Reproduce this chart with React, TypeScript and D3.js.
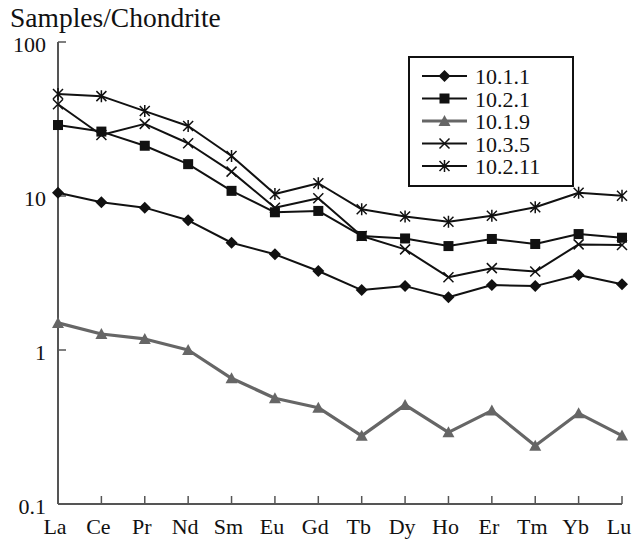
import React from "react";
import * as d3 from "d3";

const elements = ["La", "Ce", "Pr", "Nd", "Sm", "Eu", "Gd", "Tb", "Dy", "Ho", "Er", "Tm", "Yb", "Lu"];
const s1011 = [10.5, 9.1, 8.4, 6.95, 4.97, 4.18, 3.26, 2.45, 2.6, 2.2, 2.64, 2.6, 3.07, 2.67];
const s1021 = [28.9, 26.2, 21.2, 16.1, 10.8, 7.84, 8.0, 5.5, 5.3, 4.73, 5.26, 4.88, 5.66, 5.36];
const s1019 = [1.5, 1.27, 1.18, 1.0, 0.655, 0.486, 0.422, 0.277, 0.44, 0.292, 0.404, 0.239, 0.388, 0.278];
const s1035 = [39.4, 24.9, 29.4, 22.0, 14.4, 8.4, 9.66, 5.5, 4.5, 2.97, 3.4, 3.23, 4.85, 4.8];
const s10211 = [45.9, 44.5, 35.6, 28.5, 18.2, 10.3, 12.1, 8.2, 7.35, 6.8, 7.45, 8.45, 10.5, 10.05];
const seriesNames = ["10.1.1", "10.2.1", "10.1.9", "10.3.5", "10.2.11"];
const yTicks = [0.1, 1, 10, 100];
const yTickLabels = ["0.1", "1", "10", "100"];

type Marker = "diamond" | "square" | "triangle" | "x" | "star";
const series: { name: string; values: number[]; marker: Marker; color: string; width: number }[] = [
  { name: seriesNames[0], values: s1011, marker: "diamond", color: "#111", width: 2 },
  { name: seriesNames[1], values: s1021, marker: "square", color: "#111", width: 2 },
  { name: seriesNames[2], values: s1019, marker: "triangle", color: "#666", width: 3.2 },
  { name: seriesNames[3], values: s1035, marker: "x", color: "#111", width: 2 },
  { name: seriesNames[4], values: s10211, marker: "star", color: "#111", width: 2 },
];

const FONT = "Liberation Serif";

function MarkerShape({ type, x, y, color }: { type: Marker; x: number; y: number; color: string }) {
  switch (type) {
    case "diamond":
      return <path d={`M${x},${y - 6}L${x + 6},${y}L${x},${y + 6}L${x - 6},${y}Z`} fill={color} />;
    case "square":
      return <rect x={x - 5} y={y - 5} width={10} height={10} fill={color} />;
    case "triangle":
      return <path d={`M${x},${y - 6}L${x + 6},${y + 5}L${x - 6},${y + 5}Z`} fill={color} />;
    case "x":
      return (
        <path d={`M${x - 5},${y - 5}L${x + 5},${y + 5}M${x - 5},${y + 5}L${x + 5},${y - 5}`} stroke={color} strokeWidth={1.5} />
      );
    case "star":
      return (
        <path
          d={`M${x - 5},${y - 5}L${x + 5},${y + 5}M${x - 5},${y + 5}L${x + 5},${y - 5}M${x},${y - 6}L${x},${y + 6}`}
          stroke={color}
          strokeWidth={1.5}
        />
      );
  }
}

export default function App() {
  const W = 643;
  const H = 539;
  const x = d3.scalePoint<string>().domain(elements).range([58, 622]);
  const y = d3.scaleLog().domain([0.1, 100]).range([504, 42]);
  const line = d3
    .line<number>()
    .x((_, i) => x(elements[i]) as number)
    .y((d) => y(d));
  const axisColor = "#555";
  const legendX = 409;
  const legendY = 57;
  const rowH = 22.5;

  return (
    <svg width={W} height={H} style={{ position: "absolute", left: 0, top: 0 }}>
      <rect width={W} height={H} fill="#fff" />
      <text x={10} y={27} fontSize={27.5} fill="#111" fontFamily={FONT}>Samples/Chondrite</text>
      <line x1={58} x2={58} y1={y(100)} y2={y(0.1)} stroke={axisColor} strokeWidth={2} />
      <line x1={58} x2={622} y1={y(0.1)} y2={y(0.1)} stroke={axisColor} strokeWidth={2} />
      {yTicks.map((t, i) => (
        <g key={t}>
          {t !== 0.1 && <line x1={58} x2={66} y1={y(t)} y2={y(t)} stroke={axisColor} strokeWidth={1.5} />}
          <text x={46} y={y(t) + 9.5} textAnchor="end" fontSize={22} fill="#111" fontFamily={FONT}>
            {yTickLabels[i]}
          </text>
        </g>
      ))}
      {elements.map((e) => (
        <g key={e}>
          {e !== "La" && (
            <line x1={x(e)} x2={x(e)} y1={y(0.1)} y2={y(0.1) - 8} stroke={axisColor} strokeWidth={1.5} />
          )}
          <text x={(x(e) as number) - 3} y={534} textAnchor="middle" fontSize={22} fill="#111" fontFamily={FONT}>
            {e}
          </text>
        </g>
      ))}
      {series.map((s) => (
        <g key={s.name}>
          <path d={line(s.values) || ""} fill="none" stroke={s.color} strokeWidth={s.width} strokeLinejoin="round" />
          {s.values.map((v, i) => (
            <MarkerShape key={i} type={s.marker} x={x(elements[i]) as number} y={y(v)} color={s.color} />
          ))}
        </g>
      ))}
      <rect x={legendX} y={legendY} width={164} height={129} fill="#fff" stroke="#111" strokeWidth={2} />
      {series.map((s, i) => {
        const cy = legendY + 19 + i * rowH;
        return (
          <g key={s.name}>
            <line x1={422} x2={467} y1={cy} y2={cy} stroke={s.color} strokeWidth={s.width} />
            <MarkerShape type={s.marker} x={444.5} y={cy} color={s.color} />
            <text x={475} y={cy + 8} fontSize={22} fill="#111" fontFamily={FONT}>
              {s.name}
            </text>
          </g>
        );
      })}
    </svg>
  );
}
